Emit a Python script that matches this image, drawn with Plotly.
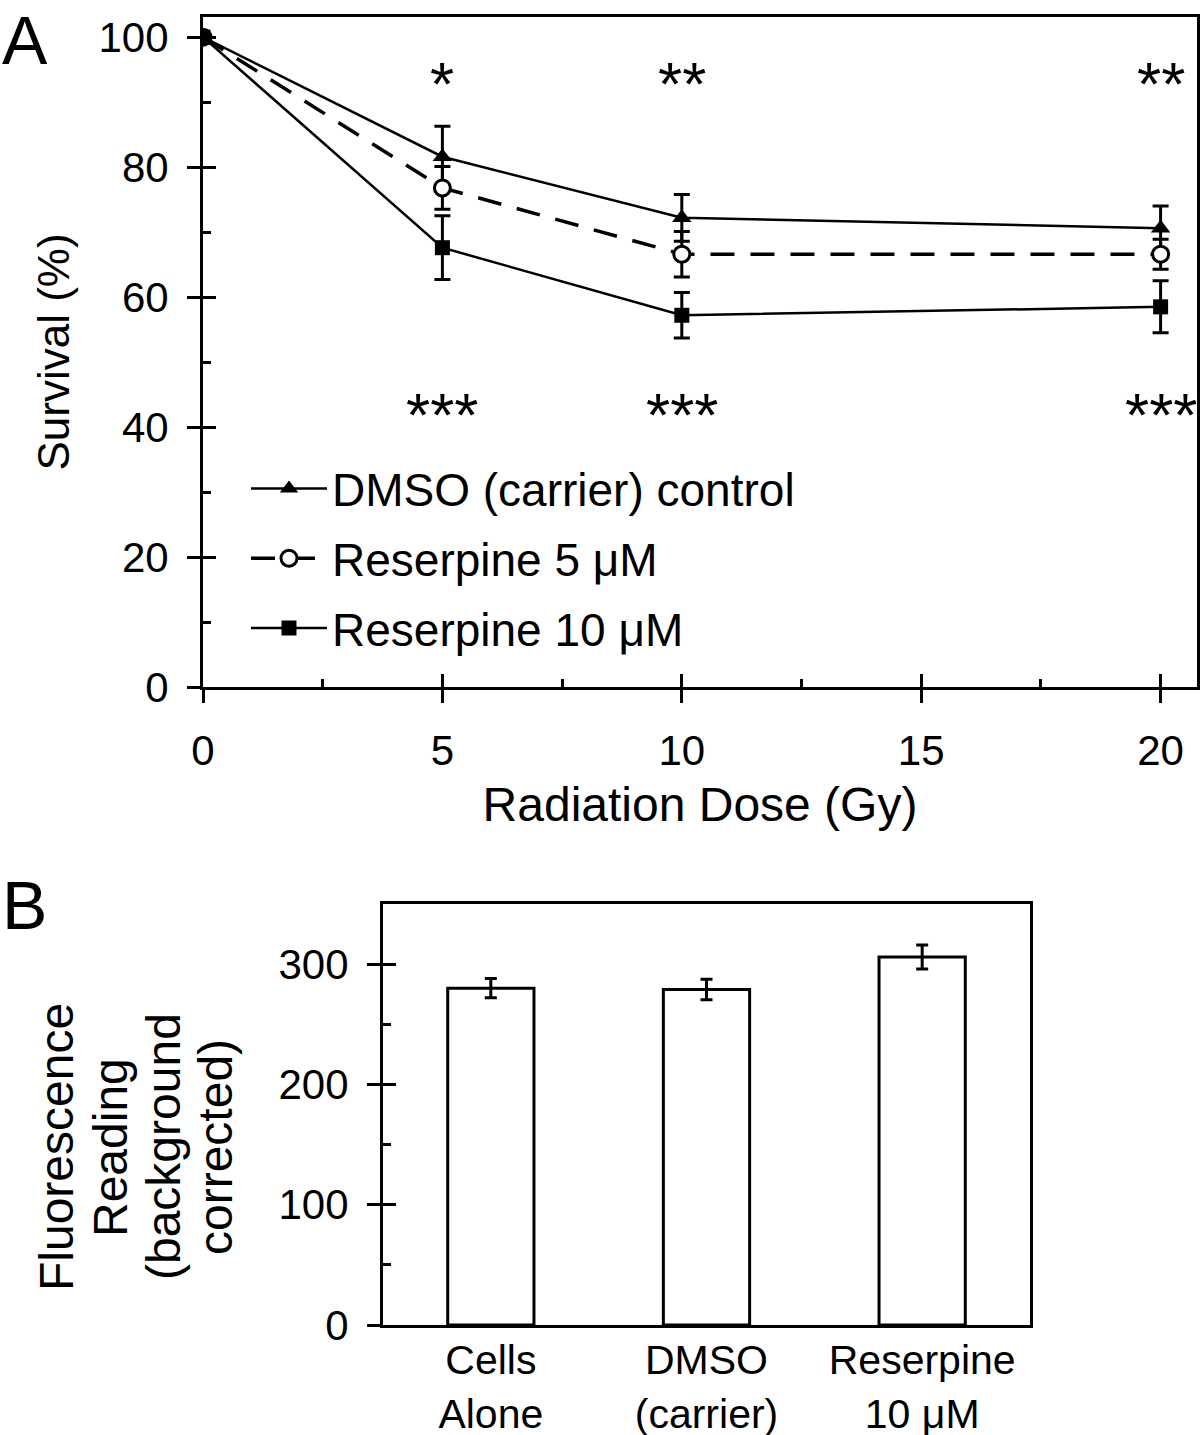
import plotly.graph_objects as go

# ---------------- Data: panel A ----------------
dose = [0, 5, 10, 20]
dmso = [100, 81.6, 72.2, 70.6]
dmso_err = [0, 4.7, 3.6, 3.4]
res5 = [100, 76.8, 66.6, 66.6]
res5_err = [0, 3.3, 3.5, 2.3]
res10 = [100, 67.6, 57.2, 58.5]
res10_err = [0, 4.9, 3.5, 4.0]

sig_top_x = [5, 10, 20]
sig_top = ["*", "**", "**"]
sig_bot_x = [5, 10, 20]
sig_bot = ["***", "***", "***"]

# ---------------- Data: panel B ----------------
groups = ["Cells<br>Alone", "DMSO<br>(carrier)", "Reserpine<br>10 μM"]
fluor = [280, 279, 306]
fluor_err = [8, 8.5, 10]
ytitle_B_lines = ["Fluorescence", "Reading", "(background", "corrected)"]

FONT = "Liberation Sans, Arial, Helvetica, sans-serif"
W, H = 1200, 1435

def px_x(p):
    return p / W

def px_y(p):
    return (H - p) / H

fig = go.Figure()

fig.add_trace(go.Scatter(
    x=dose, y=dmso, name="DMSO (carrier) control", mode="lines+markers",
    line=dict(color="black", width=2.5),
    marker=dict(symbol="triangle-up", size=17, color="black"),
    error_y=dict(type="data", array=dmso_err, color="black", thickness=3, width=8),
    xaxis="x", yaxis="y", legendgroup="a"))
fig.add_trace(go.Scatter(
    x=dose, y=res5, name="Reserpine 5 μM", mode="lines+markers",
    line=dict(color="black", width=3.5, dash="24px,16px"),
    marker=dict(symbol="circle", size=16, color="white", line=dict(color="black", width=3)),
    error_y=dict(type="data", array=res5_err, color="black", thickness=3, width=8),
    xaxis="x", yaxis="y", legendgroup="b"))
fig.add_trace(go.Scatter(
    x=dose, y=res10, name="Reserpine 10 μM", mode="lines+markers",
    line=dict(color="black", width=2.5),
    marker=dict(symbol="square", size=15, color="black"),
    error_y=dict(type="data", array=res10_err, color="black", thickness=3, width=8),
    xaxis="x", yaxis="y", legendgroup="c"))

fig.add_trace(go.Bar(
    x=groups, y=fluor, width=0.4, showlegend=False,
    marker=dict(color="white", line=dict(color="black", width=3)),
    error_y=dict(type="data", array=fluor_err, color="black", thickness=3, width=6),
    xaxis="x2", yaxis="y2"))

axis_common = dict(showgrid=False, zeroline=False, linecolor="black", linewidth=3,
                   tickcolor="black", tickwidth=3, ticklen=13, automargin=False,
                   tickfont=dict(family=FONT, size=42, color="black"))
overlay_common = dict(ticklen=13, tickwidth=3, tickcolor="black", showticklabels=False,
                      showline=False, showgrid=False, zeroline=False, automargin=False,
                      ticks="inside")

xA_dom = [px_x(203), px_x(1197)]
yA_dom = [px_y(687), px_y(17)]
xB_dom = [px_x(383), px_x(1030)]
yB_dom = [px_y(1325), px_y(904)]

xA_range = [0, 20.76]
yA_range = [0, 103.1]

fig.update_layout(
    width=W, height=H, paper_bgcolor="white", plot_bgcolor="white",
    margin=dict(l=0, r=0, t=0, b=0, autoexpand=False),
    font=dict(family=FONT, color="black"),
    xaxis=dict(domain=xA_dom, range=xA_range, tickvals=[0, 5, 10, 15, 20],
               ticks="outside", mirror=True, anchor="y", ticklabelstandoff=12,
               minor=dict(ticks="inside", tickvals=[2.5, 7.5, 12.5, 17.5], ticklen=8,
                          tickwidth=3, tickcolor="black"),
               title=dict(text="Radiation Dose (Gy)", font=dict(size=48), standoff=14),
               **axis_common),
    yaxis=dict(domain=yA_dom, range=yA_range, tickvals=[0, 20, 40, 60, 80, 100],
               ticks="outside", mirror=True, anchor="x", ticklabelstandoff=10,
               minor=dict(ticks="inside", tickvals=[10, 30, 50, 70, 90], ticklen=8,
                          tickwidth=3, tickcolor="black"),
               title=dict(text="Survival (%)", font=dict(size=44), standoff=16),
               **axis_common),
    xaxis3=dict(domain=xA_dom, range=xA_range, tickvals=[0, 5, 10, 15, 20],
                overlaying="x", anchor="y", **overlay_common),
    yaxis3=dict(domain=yA_dom, range=yA_range, tickvals=[0, 20, 40, 60, 80, 100],
                overlaying="y", anchor="x", **overlay_common),
    xaxis2=dict(domain=xB_dom, range=[-0.5, 2.5], ticks="", mirror=True, anchor="y2",
                ticklabelstandoff=-3, showgrid=False, zeroline=False, linecolor="black",
                linewidth=3, automargin=False,
                tickfont=dict(family=FONT, size=41, color="black")),
    yaxis2=dict(domain=yB_dom, range=[0, 350], tickvals=[0, 100, 200, 300],
                ticks="outside", mirror=True, anchor="x2", ticklabelstandoff=10,
                minor=dict(ticks="inside", tickvals=[50, 150, 250], ticklen=8,
                           tickwidth=3, tickcolor="black"),
                **axis_common),
    yaxis4=dict(domain=yB_dom, range=[0, 350], tickvals=[0, 100, 200, 300],
                overlaying="y2", anchor="x2", **overlay_common),
    legend=dict(x=px_x(246), y=px_y(452), xanchor="left", yanchor="top",
                bgcolor="rgba(0,0,0,0)", font=dict(family=FONT, size=46, color="black"),
                traceorder="grouped", tracegroupgap=7, itemwidth=76),
    showlegend=True,
)

fig.add_trace(go.Scatter(x=[None], y=[None], xaxis="x3", yaxis="y3", showlegend=False,
                         hoverinfo="skip"))
fig.add_trace(go.Scatter(x=[None], y=[None], xaxis="x2", yaxis="y4", showlegend=False,
                         hoverinfo="skip"))

annotations = []
for xv, t in zip(sig_top_x, sig_top):
    annotations.append(dict(x=xv, y=92.8, xref="x", yref="y", text=t, showarrow=False,
                            font=dict(family=FONT, size=62, color="black")))
for xv, t in zip(sig_bot_x, sig_bot):
    annotations.append(dict(x=xv, y=42.0, xref="x", yref="y", text=t, showarrow=False,
                            font=dict(family=FONT, size=62, color="black")))
# panel B y-axis title, one rotated line per text line (tight line spacing as in the original)
for line_text, cx in zip(ytitle_B_lines, [56, 110, 163, 215]):
    annotations.append(dict(x=px_x(cx), y=px_y(1147), xref="paper", yref="paper",
                            text=line_text, showarrow=False, textangle=-90,
                            xanchor="center", yanchor="middle",
                            font=dict(family=FONT, size=48, color="black")))
annotations.append(dict(x=0.0, y=1.0, xref="paper", yref="paper", text="A", showarrow=False,
                        xanchor="left", yanchor="top",
                        font=dict(family=FONT, size=68, color="black")))
annotations.append(dict(x=0.0, y=px_y(868), xref="paper", yref="paper", text="B", showarrow=False,
                        xanchor="left", yanchor="top", yshift=3,
                        font=dict(family=FONT, size=68, color="black")))
fig.update_layout(annotations=annotations)

fig.write_html(
    "out.html",
    config={"displayModeBar": False},
    post_script=(
        "var gd=document.getElementById('{plot_id}');"
        "gd.style.position='absolute';gd.style.left='0px';gd.style.top='0px';"
        "document.body.style.margin='0';document.body.style.padding='0';"
        "document.body.style.overflow='hidden';"
        "document.documentElement.style.overflow='hidden';"
    ),
)
